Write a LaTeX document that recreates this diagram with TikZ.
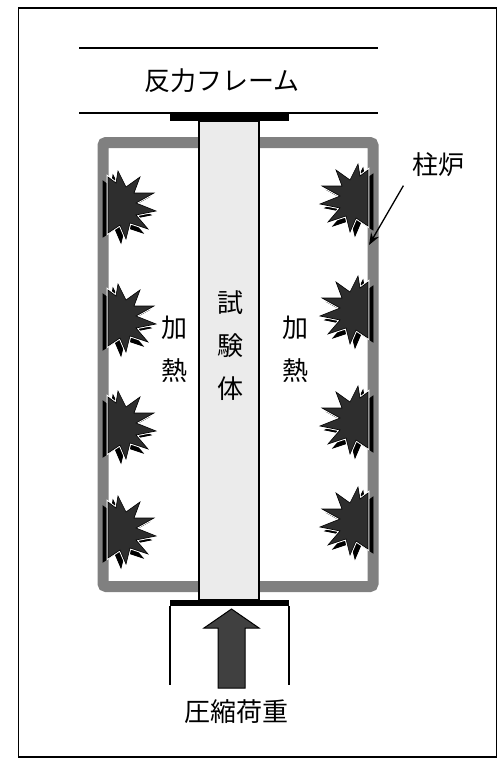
\documentclass[tikz,border=0pt]{standalone}
\usepackage{fontspec}
\newfontfamily\jp{Noto Sans CJK JP}
\usetikzlibrary{positioning,arrows.meta}

\tikzset{
  lbl/.style={font=\jp\fontsize{26}{30}\selectfont, inner sep=0pt},
  wall/.style={draw=black!50, line width=11pt, rounded corners=3pt},
  plate/.style={fill=black},
  % one burner flame, pointing away from the wall at the origin
  flame/.pic={
    \foreach \dx/\dy/\fl/\dr/\lw in {-5/4/black/black/0.8pt, 0/0/none/white/2.6pt, 0/0/black!82/black/0.6pt}
      \path[fill=\fl, draw=\dr, line width=\lw, shift={(\dx,\dy)}]
        (0,-28) -- (8,-22) -- (10,-34) -- (18,-18) -- (32,-28) -- (26,-12)
        -- (46,-12) -- (28,-2) -- (48,6) -- (28,10) -- (40,24) -- (22,18)
        -- (18,34) -- (12,20) -- (0,28) -- cycle;
  }
}

\begin{document}
\begin{tikzpicture}[x=1pt, y=-1pt, node distance=43pt, line width=1.2pt]
  \useasboundingbox (0,0) rectangle (501,760);
  \draw[line width=1.6pt] (18.5,8) rectangle (496.5,757);

  % reaction frame
  \draw[line width=1.4pt] (79,48) -- (378,48) (79,113) -- (378,113);
  \node[lbl] (0) at (222,81) {反力フレーム};

  % furnace and flames
  \draw[wall] (103,142.5) rectangle (373,586.5);
  \foreach \y in {205,318,425,530}
    \path (108,\y) pic {flame};
  \foreach \y in {198,310,420,521}
    \path (368,\y) pic[xscale=-1] {flame};

  % specimen between the plates
  \draw[fill=black!8] (199,121) rectangle (259,600);
  \fill[plate] (170,113) rectangle (289,121);
  \fill[plate] (170,600) rectangle (289,606);

  % loading
  \draw (170,606) -- (170,685) (289,606) -- (289,685);
  \filldraw[fill=black!75, line width=1pt] (218,688) -- (218,628) -- (204,628)
    -- (231.5,609) -- (259,628) -- (245,628) -- (245,688) -- cycle;
  \node[lbl] (load) at (236,712) {圧縮荷重};

  \node[lbl] (t1) at (230.5,303) {試};
  \node[lbl, below of=t1] (t2) {験};
  \node[lbl, below of=t2] (t3) {体};
  \node[lbl] (l1) at (174,328) {加};
  \node[lbl, below of=l1] (l2) {熱};
  \node[lbl] (r1) at (295,328) {加};
  \node[lbl, below of=r1] (r2) {熱};

  \node[lbl] (ro) at (438,165) {柱炉};
  \coordinate (wallpt) at (369,245);
  \draw[-{Stealth[length=12pt,width=9pt]}, line width=1.3pt]
    ([shift={(-8,8)}]ro.south west) -- (wallpt);
\end{tikzpicture}
\end{document}
